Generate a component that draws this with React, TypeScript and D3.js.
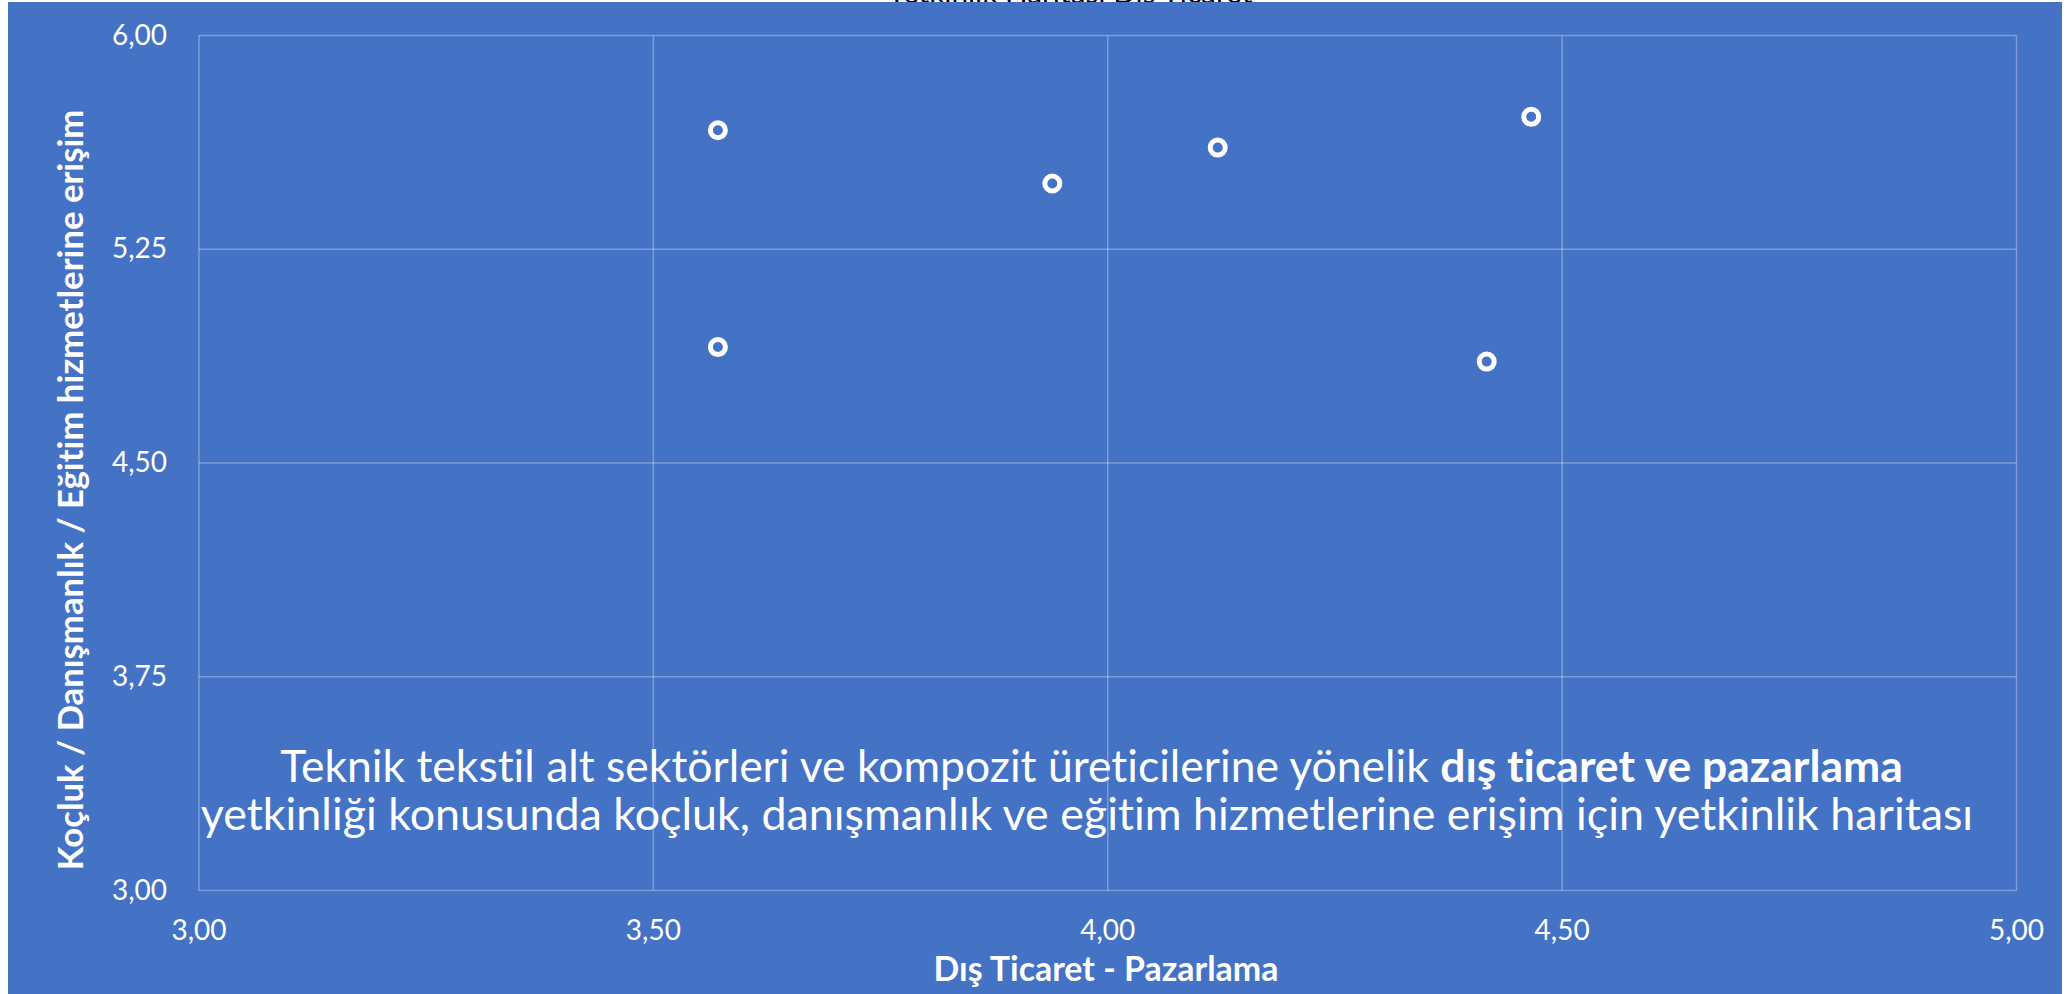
import React, { useLayoutEffect, useRef } from "react";
import * as d3 from "d3";

const xValues = [3.571, 3.571, 3.939, 4.121, 4.466, 4.417];
const yValues = [5.668, 4.907, 5.481, 5.607, 5.715, 4.856];
const xTicks = [3.0, 3.5, 4.0, 4.5, 5.0];
const yTicks = [3.0, 3.75, 4.5, 5.25, 6.0];
const xTitle = "Dış Ticaret - Pazarlama";
const yTitle = "Koçluk / Danışmanlık / Eğitim hizmetlerine erişim";
const noteLine1a = "Teknik tekstil alt sektörleri ve kompozit üreticilerine yönelik ";
const noteLine1b = "dış ticaret ve pazarlama";
const noteLine2 = "yetkinliği konusunda koçluk, danışmanlık ve eğitim hizmetlerine erişim için yetkinlik haritası";
const topTitle = "Yetkinlik Haritası Dış Ticaret";

const W = 2068;
const H = 994;
const FONT = "Lato, 'Open Sans', sans-serif";
const fmt = (v: number) => v.toFixed(2).replace(".", ",");

export default function App() {
  const ref = useRef<SVGSVGElement>(null);
  const x = d3.scaleLinear().domain([3, 5]).range([199, 2016.5]);
  const y = d3.scaleLinear().domain([3, 6]).range([890.5, 35.6]);

  useLayoutEffect(() => {
    const svg = ref.current;
    if (!svg) return;
    svg.querySelectorAll<SVGTextElement>("text[data-fit]").forEach((el) => {
      const target = parseFloat(el.getAttribute("data-fit") || "0");
      const fs = parseFloat(el.getAttribute("font-size") || "20");
      const len = el.getComputedTextLength();
      if (len > 0) el.setAttribute("font-size", String((fs * target) / len));
    });
  }, []);

  const grid = "rgba(255,255,255,0.3)";
  return (
    <svg
      ref={ref}
      width={W}
      height={H}
      style={{ position: "absolute", left: 0, top: 0, background: "#fff", fontVariantLigatures: "none" }}
      fontFamily={FONT}
    >
      <text x={1070} y={3} fontSize={22} textAnchor="middle" fill="#000" data-fit={365}>
        {topTitle}
      </text>
      <rect x={8} y={2} width={W - 14} height={H - 2} fill="#4472C4" />
      {xTicks.map((t) => (
        <line key={"gx" + t} x1={x(t)} x2={x(t)} y1={y(6)} y2={y(3)} stroke={grid} strokeWidth={1.5} />
      ))}
      {yTicks.map((t) => (
        <line key={"gy" + t} x1={x(3)} x2={x(5)} y1={y(t)} y2={y(t)} stroke={grid} strokeWidth={1.5} />
      ))}
      {yTicks.map((t) => (
        <text key={"ly" + t} x={167} y={y(t) + 9} fontSize={28} fill="#fff" textAnchor="end">
          {fmt(t)}
        </text>
      ))}
      {xTicks.map((t) => (
        <text key={"lx" + t} x={x(t)} y={940} fontSize={28} fill="#fff" textAnchor="middle">
          {fmt(t)}
        </text>
      ))}
      <text x={1106} y={981} fontSize={28} fontWeight="bold" fill="#fff" textAnchor="middle" data-fit={345}>
        {xTitle}
      </text>
      <text
        transform={`translate(83,490) rotate(-90)`}
        fontSize={30}
        fontWeight="bold"
        fill="#fff"
        textAnchor="middle"
        data-fit={761}
      >
        {yTitle}
      </text>
      {xValues.map((v, i) => (
        <circle key={"p" + i} cx={x(v)} cy={y(yValues[i])} r={7.5} fill="none" stroke="#fff" strokeWidth={5} />
      ))}
      <text x={1091.5} y={782} fontSize={40} fill="#fff" textAnchor="middle" data-fit={1623}>
        <tspan>{noteLine1a}</tspan>
        <tspan fontWeight="bold">{noteLine1b}</tspan>
      </text>
      <text x={1087} y={830} fontSize={40} fill="#fff" textAnchor="middle" data-fit={1773}>
        {noteLine2}
      </text>
    </svg>
  );
}
